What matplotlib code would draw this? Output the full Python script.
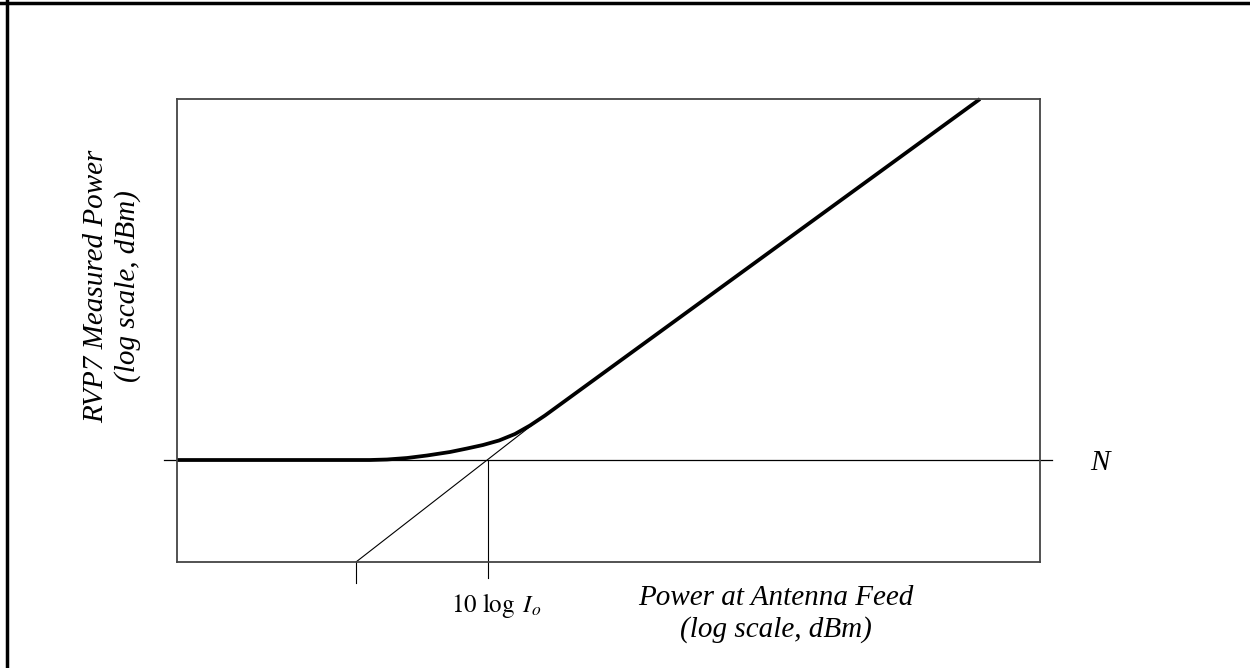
import matplotlib.pyplot as plt
from matplotlib.lines import Line2D

plt.rcParams['font.family'] = ['Liberation Serif', 'DejaVu Serif']
plt.rcParams['mathtext.fontset'] = 'stix'

# schematic values (arbitrary units, axes span 0..863 x 0..463)
feed_power = [0, 193, 210, 230, 250, 273, 290, 306, 322, 338, 353, 368, 803]
measured_power = [102, 102, 102.5, 104, 106.5, 110, 113.5, 117, 121.5, 128, 136.5, 146.5, 463]
noise_level = 102
noise_span = [-13, 875]
asymptote_x = [179, 368]
asymptote_y = [0, 147]
io_x = 311
tick_x = 179

fig = plt.figure(figsize=(12.5, 6.68), dpi=100)
ax = fig.add_axes([177 / 1250, (668 - 562) / 668, 863 / 1250, 463 / 668])
ax.set_xlim(0, 863)
ax.set_ylim(0, 463)
ax.set_xticks([])
ax.set_yticks([])
for s in ax.spines.values():
    s.set_linewidth(1.3)
    s.set_color('#444444')

# noise floor N
ax.plot(noise_span, [noise_level, noise_level], color='black', lw=0.9, clip_on=False)
# extrapolated linear response
ax.plot(asymptote_x, asymptote_y, color='black', lw=0.8)
# 10 log Io marker and left tick
ax.plot([io_x, io_x], [noise_level, -16], color='black', lw=0.8, clip_on=False)
ax.plot([tick_x, tick_x], [0, -21], color='black', lw=0.8, clip_on=False)
# measured response
ax.plot(feed_power, measured_power, color='black', lw=2.7, solid_capstyle='butt',
        solid_joinstyle='round', clip_on=False)

ax.text(923, noise_level - 3, 'N', style='italic', fontsize=21, ha='center', va='center')
ax.text(io_x + 8, -43, r'$10\ \log\ I_o$', fontsize=18, ha='center', va='center')
ax.text(599, -52, 'Power at Antenna Feed\n(log scale, dBm)', style='italic', fontsize=21,
        ha='center', va='center', linespacing=1.25)
ax.text(-65, 276, 'RVP7 Measured Power\n(log scale, dBm)', style='italic', fontsize=21,
        ha='center', va='center', rotation=90, linespacing=1.25)

# partial outer frame (top and left edges)
fig.add_artist(Line2D([0, 1], [1 - 3 / 668, 1 - 3 / 668], color='black', lw=2.5))
fig.add_artist(Line2D([7 / 1250, 7 / 1250], [0, 1], color='black', lw=2.5))

fig.savefig('out.png', dpi=100)
